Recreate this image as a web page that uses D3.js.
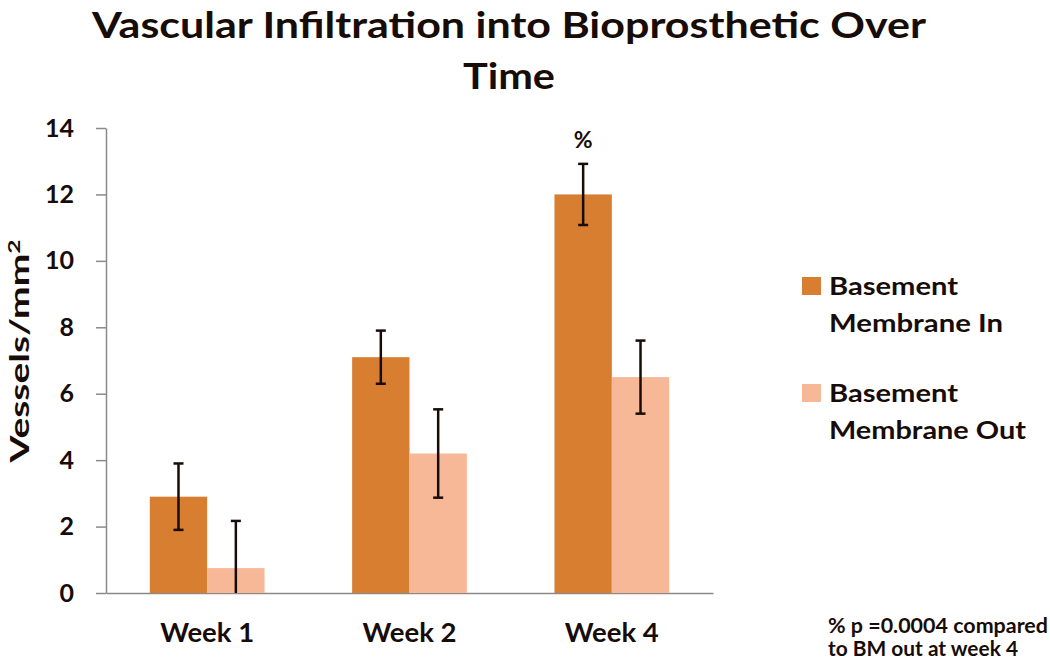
<!DOCTYPE html>
<html>
<head>
<meta charset="utf-8">
<script src="https://cdn.jsdelivr.net/npm/d3@7"></script>
<style>
  body { margin: 0; background: #fff; }
  svg { font-family: Lato, "Open Sans", sans-serif; font-weight: bold; }
</style>
</head>
<body>
<svg width="1050" height="665"></svg>
<script>
// Vascular infiltration bar chart with error bars

const weeks = ["Week 1", "Week 2", "Week 4"];
const seriesNames = ["Basement Membrane In", "Basement Membrane Out"];
const valuesIn = [2.9, 7.1, 12.0];
const valuesOut = [0.75, 4.2, 6.5];
const errIn = [1.0, 0.8, 0.92];
const errOut = [1.42, 1.33, 1.1];
const yTicks = [0, 2, 4, 6, 8, 10, 12, 14];

const colors = ["#d77e31", "#f7b898"];
const ink = "#170c08";

const svg = d3.select("svg");

const x0 = d3.scaleBand()
    .domain(weeks)
    .range([106, 713])
    .paddingInner(0.433)
    .paddingOuter(0.2165);

const x1 = d3.scaleBand()
    .domain([0, 1])
    .range([0, x0.bandwidth()]);

const y = d3.scaleLinear()
    .domain([0, 14])
    .range([593, 128]);

// rows: one per bar
const rows = [];
weeks.forEach((w, i) => {
  rows.push({week: w, s: 0, v: valuesIn[i], e: errIn[i]});
  rows.push({week: w, s: 1, v: valuesOut[i], e: errOut[i]});
});

// helper: text squeezed/stretched to a given width
function fitText(g, x, yy, str, len) {
  return g.append("text")
      .attr("x", x).attr("y", yy)
      .attr("textLength", len)
      .attr("lengthAdjust", "spacingAndGlyphs")
      .text(str);
}

// Title
const title = svg.append("g")
    .attr("fill", ink)
    .attr("font-size", 36)
    .attr("text-anchor", "middle");
fitText(title, 509, 38, "Vascular Infiltration into Bioprosthetic Over", 834);
fitText(title, 509, 89, "Time", 92);

// Y axis
const yAxis = svg.append("g")
    .attr("transform", "translate(106,0)")
    .call(d3.axisLeft(y).tickValues(yTicks).tickSize(10).tickSizeOuter(0).tickPadding(22));
yAxis.select(".domain").attr("stroke", "#8a8a8a").attr("stroke-width", 1.5);
yAxis.selectAll(".tick line").attr("stroke", "#8a8a8a").attr("stroke-width", 1.5);
yAxis.selectAll(".tick text")
    .attr("fill", ink)
    .attr("font-size", 25)
    .attr("font-family", "Lato, sans-serif")
    .attr("font-weight", "bold");

// Y label
const ylab = svg.append("text")
    .attr("transform", "translate(29,351) rotate(-90)")
    .attr("text-anchor", "middle")
    .attr("fill", ink)
    .attr("font-size", 27)
    .attr("textLength", 223)
    .attr("lengthAdjust", "spacingAndGlyphs");
ylab.append("tspan").text("Vessels/mm");
ylab.append("tspan").attr("dy", -9).attr("font-size", 17).text("2");

// X axis
const xAxis = svg.append("g")
    .attr("transform", "translate(0,593)")
    .call(d3.axisBottom(x0).tickSize(0).tickSizeOuter(0).tickPadding(31));
xAxis.select(".domain").attr("stroke", "#8a8a8a").attr("stroke-width", 1.5);
xAxis.selectAll(".tick text")
    .attr("fill", ink)
    .attr("font-size", 26)
    .attr("font-family", "Lato, sans-serif")
    .attr("font-weight", "bold")
    .attr("textLength", 94)
    .attr("lengthAdjust", "spacingAndGlyphs");

// Bars
svg.append("g")
  .selectAll("rect")
  .data(rows)
  .join("rect")
    .attr("x", d => x0(d.week) + x1(d.s))
    .attr("y", d => y(d.v))
    .attr("width", x1.bandwidth())
    .attr("height", d => y(0) - y(d.v))
    .attr("fill", d => colors[d.s]);

// Error bars
const eb = svg.append("g")
    .attr("stroke", ink)
    .attr("stroke-width", 2.5);
rows.forEach(d => {
  const cx = x0(d.week) + x1(d.s) + x1.bandwidth() / 2;
  const top = y(d.v + d.e);
  const bot = y(Math.max(0, d.v - d.e));
  eb.append("line").attr("x1", cx).attr("x2", cx).attr("y1", top).attr("y2", bot);
  eb.append("line").attr("x1", cx - 5).attr("x2", cx + 5).attr("y1", top).attr("y2", top);
  if (d.v - d.e > 0)
    eb.append("line").attr("x1", cx - 5).attr("x2", cx + 5).attr("y1", bot).attr("y2", bot);
});

// Significance marker
svg.append("text")
    .attr("x", x0("Week 4") + x1(0) + x1.bandwidth() / 2)
    .attr("y", y(valuesIn[2] + errIn[2]) - 16)
    .attr("text-anchor", "middle")
    .attr("fill", ink)
    .attr("font-size", 23)
    .text("%");

// Legend
const legend = svg.append("g")
    .attr("fill", ink)
    .attr("font-size", 25);
const legendLens = [[129, 174], [129, 197]];
seriesNames.forEach((name, i) => {
  const gy = 277 + i * 107;
  legend.append("rect")
      .attr("x", 802).attr("y", gy)
      .attr("width", 19).attr("height", 18)
      .attr("fill", colors[i]);
  const words = name.split(" ");
  fitText(legend, 829, gy + 18, words[0], legendLens[i][0]);
  fitText(legend, 829, gy + 55, words.slice(1).join(" "), legendLens[i][1]);
});

// Footnote
const note = svg.append("g")
    .attr("fill", ink)
    .attr("font-size", 20);
fitText(note, 828, 633, "% p =0.0004 compared", 220);
fitText(note, 828, 656, "to BM out at week 4", 190);
</script>
</body>
</html>
